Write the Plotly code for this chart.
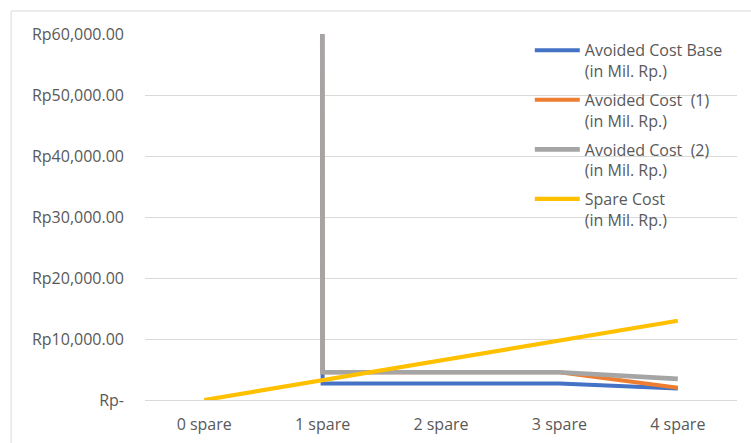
import plotly.graph_objects as go

categories = ["0 spare", "1 spare", "2 spare", "3 spare", "4 spare"]
avoided_base = [2.0e7, 2700, 2700, 2700, 1880]
avoided_1 = [2.0e7, 4550, 4550, 4550, 2000]
avoided_2 = [2.0e7, 4550, 4550, 4550, 3470]
spare_cost = [0, 3250, 6500, 9750, 13000]

series_names = [
    "Avoided Cost Base<br>(in Mil. Rp.)",
    "Avoided Cost  (1)<br>(in Mil. Rp.)",
    "Avoided Cost  (2)<br>(in Mil. Rp.)",
    "Spare Cost<br>(in Mil. Rp.)",
]
series_colors = ["#4472C4", "#ED7D31", "#A5A5A5", "#FFC000"]
series_widths = [4, 4, 4.6, 4.2]

y_tickvals = [0, 10000, 20000, 30000, 40000, 50000, 60000]
y_ticktext = ["Rp-", "Rp10,000.00", "Rp20,000.00", "Rp30,000.00",
              "Rp40,000.00", "Rp50,000.00", "Rp60,000.00"]

FONT = "Open Sans"
TXT = "#595959"

fig = go.Figure()
for i, (name, vals, col, w) in enumerate(zip(series_names,
                                             [avoided_base, avoided_1, avoided_2, spare_cost],
                                             series_colors, series_widths)):
    fig.add_trace(go.Scatter(
        x=categories, y=vals, mode="lines", name=name,
        line=dict(color=col, width=w), legendgroup=f"g{i}",
    ))

fig.update_layout(
    width=751, height=443,
    margin=dict(l=145, r=13.5, t=34, b=42.5),
    paper_bgcolor="white", plot_bgcolor="white",
    font=dict(family=FONT, size=16, color=TXT),
    legend=dict(
        x=0.650, y=1.002, xanchor="left", yanchor="top",
        bgcolor="rgba(0,0,0,0)", tracegroupgap=5, valign="top",
        itemwidth=45,
        font=dict(family=FONT, size=16, color=TXT),
    ),
    showlegend=True,
)
fig.update_xaxes(
    type="category", range=[-0.5, 4.5], automargin=False,
    showgrid=False, showline=True, linecolor="#D9D9D9", linewidth=1,
    ticks="", ticklabelstandoff=10,
    tickfont=dict(family=FONT, size=16, color=TXT),
)
fig.update_yaxes(
    range=[0, 60000], tickvals=y_tickvals, ticktext=y_ticktext, automargin=False,
    showgrid=True, gridcolor="#D9D9D9", gridwidth=1,
    zeroline=False, showline=False, ticks="", ticklabelstandoff=20,
    tickfont=dict(family=FONT, size=16, color=TXT),
)
fig.add_shape(type="rect", xref="paper", yref="paper",
              x0=-0.2262, x1=1.2, y0=-0.3, y1=1.0628,
              line=dict(color="#D9D9D9", width=1), layer="below")

fig.write_html("out.html", config={"displayModeBar": False},
               post_script="document.body.style.margin='0';")
